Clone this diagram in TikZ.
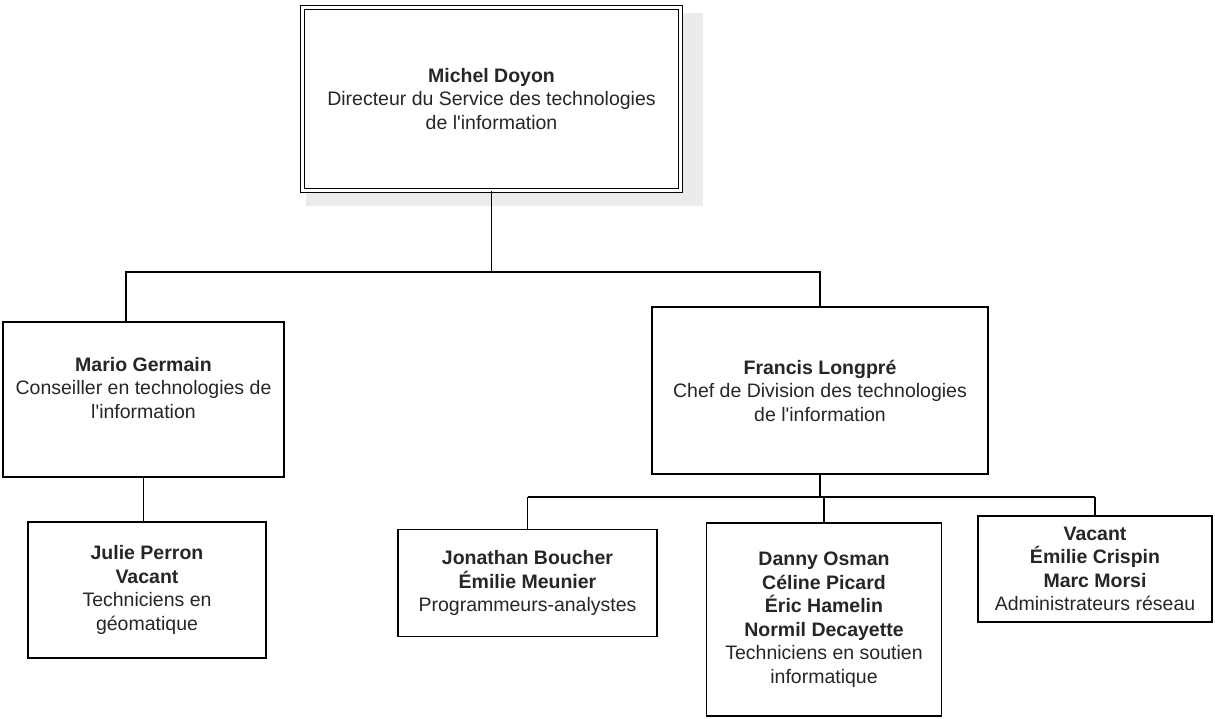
\documentclass[tikz,border=0pt]{standalone}
\usepackage{fontspec}
\setmainfont{Liberation Sans}
\usetikzlibrary{shapes,positioning,shadows}
\tikzset{
  basic/.style  = {draw, line width=1.3pt, rectangle, align=center, inner sep=0pt,
                   font=\fontsize{19.5}{23.5}\selectfont, text=black!85},
  root/.style   = {basic, double, double distance=2.5pt, line width=1.1pt, fill=white,
                   minimum width=378pt, minimum height=183pt,
                   drop shadow={shadow xshift=12pt, shadow yshift=-10pt,
                                shadow scale=1.05, fill=black!8, opacity=1}},
  head/.style   = {basic, fill=white},
  team/.style   = {basic, fill=white}
}

\begin{document}
\begin{tikzpicture}[x=1pt, y=-1pt, line width=1.3pt]
\useasboundingbox (0,0) rectangle (1215,719);

% director, top of the chart
\node[root] (dir) at (491.5,99) {\textbf{Michel Doyon}\\Directeur du Service des technologies\\de l\textquotesingle information};

% second level
\node[head, minimum width=281pt, minimum height=155pt] (mario) at (143.5,399.5)
  {\textbf{Mario Germain}\\Conseiller en technologies de\\l\textquotesingle information\\\mbox{}};
\node[head, minimum width=336pt, minimum height=167pt] (francis) at (820,390.5)
  {\textbf{Francis Longpré}\\Chef de Division des technologies\\de l\textquotesingle information};

% third level, the teams
\node[team, minimum width=238pt, minimum height=136pt] (julie) at (147,590)
  {\textbf{Julie Perron}\\\textbf{Vacant}\\Techniciens en\\géomatique};
\node[team, minimum width=259pt, minimum height=107pt] (jonathan) at (527.5,583)
  {\textbf{Jonathan Boucher}\\\textbf{Émilie Meunier}\\Programmeurs-analystes};
\node[team, minimum width=235pt, minimum height=193pt] (danny) at (824,619.5)
  {\textbf{Danny Osman}\\\textbf{Céline Picard}\\\textbf{Éric Hamelin}\\\textbf{Normil Decayette}\\Techniciens en soutien\\informatique};
\node[team, minimum width=234pt, minimum height=106pt] (vacant) at (1095,569)
  {\textbf{Vacant}\\\textbf{Émilie Crispin}\\\textbf{Marc Morsi}\\Administrateurs réseau};

% lines from the director to the second level
\coordinate (bus1) at (126,272);
\draw (dir.south) -- (dir.south |- bus1);
\draw (bus1 |- mario.north) -- (bus1) -- (francis.north |- bus1) -- (francis.north);
\draw (mario.south) -- (mario.south |- julie.north);

% lines from the chief of division to every one of his teams
\coordinate (bus2) at (0,497);
\draw (francis.south) -- (francis.south |- bus2);
\draw (jonathan.north |- bus2) -- (vacant.north |- bus2);
\foreach \team in {jonathan,danny,vacant}
  \draw (\team.north |- bus2) -- (\team.north);
\end{tikzpicture}
\end{document}
